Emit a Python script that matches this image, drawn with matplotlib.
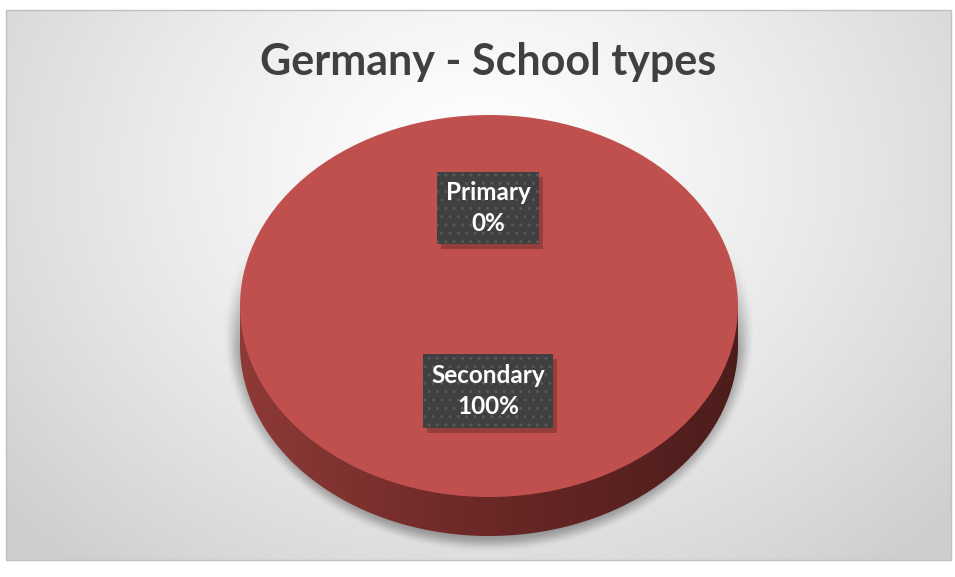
import numpy as np
import matplotlib
matplotlib.use('Agg')
import matplotlib.pyplot as plt
from matplotlib.patches import Rectangle, Polygon

# Datos
categorias = ['Primary', 'Secondary']
valores = [0, 100]
etiquetas = ['Primary\n0%', 'Secondary\n100%']
titulo = 'Germany - School types'

W, H = 955, 577
fig = plt.figure(figsize=(W / 100, H / 100), dpi=100)
fig.patch.set_facecolor('white')

# Fondo del gráfico (coordenadas en píxeles)
bg = fig.add_axes([0, 0, 1, 1], zorder=0)
bg.set_xlim(0, W)
bg.set_ylim(H, 0)
bg.axis('off')

x0, x1, y0, y1 = 6, 951, 10, 560
xx, yy = np.meshgrid(np.arange(x0, x1), np.arange(y0, y1))
d = np.sqrt(((xx - 480) / 620) ** 2 + ((yy - 170) / 520) ** 2)
gris = 1 - 0.19 * np.clip(d, 0, 1) ** 1.3
bg.imshow(np.dstack([gris, gris, gris]), extent=(x0, x1, y1, y0), zorder=0)
bg.add_patch(Rectangle((x0, y0), x1 - x0, y1 - y0, fill=False, edgecolor='#BFBFBF', lw=1, zorder=1))

# Sombra bajo la tarta
dd = np.sqrt(((xx - 488) / 266) ** 2 + ((yy - 332) / 220) ** 2)
s = np.clip((1.0 - dd) / 0.075, 0, 1)
alfa = s * s * (3 - 2 * s) * 0.32
alfa *= np.clip((yy - 240) / 110, 0, 1)
sombra = np.zeros((yy.shape[0], yy.shape[1], 4))
sombra[..., 3] = alfa
bg.imshow(sombra, extent=(x0, x1, y1, y0), zorder=2)

bg.text(488, 62, titulo, ha='center', va='center', fontsize=31, fontweight='bold',
        color='#404040', family=['Lato', 'DejaVu Sans'])

# Tarta (elipse: centro 489,306 ; rx 249 ; ry 191 ; grosor 39 px)
cx, cy, rx, ry, g = 489, 306, 249, 191, 39
prof = g / ry
ax = fig.add_axes([(cx - rx) / W, (H - cy - ry - g) / H, 2 * rx / W, (2 * ry + g) / H], zorder=1)
ax.patch.set_alpha(0)

# Lateral con degradado
t = np.linspace(np.pi, 2 * np.pi, 200)
lado = np.vstack([np.c_[np.cos(t), np.sin(t) - prof], [[1, 0], [-1, 0]]])
clip = Polygon(lado, closed=True, transform=ax.transData, facecolor='none', edgecolor='none')
ax.add_patch(clip)
grad = np.linspace(0, 1, 256)[None, :]
cmap = matplotlib.colors.LinearSegmentedColormap.from_list('lado', ['#8E3A37', '#6A2826', '#4C1D1C'])
im = ax.imshow(grad, extent=(-1, 1, -1 - prof, 0), cmap=cmap, aspect='auto', zorder=1)
im.set_clip_path(clip)

cuñas, _ = ax.pie(valores, colors=['#C0504D', '#C0504D'], startangle=90, counterclock=False,
                  radius=1, wedgeprops=dict(linewidth=0), frame=True)
for c in cuñas:
    c.set_zorder(2)
ax.set_xlim(-1, 1)
ax.set_ylim(-1 - prof, 1)
ax.set_aspect('auto')
ax.axis('off')

# Etiquetas de datos (cajas en píxeles: ancho, alto)
pos = [(488, 208), (488, 391)]
cajas = [(102, 72), (130, 74)]
sx, sy = 1 / rx, 1 / ry
for (px, py), (bw, bh), et in zip(pos, cajas, etiquetas):
    xd, yd = (px - cx) * sx, (cy - py) * sy
    ax.add_patch(Rectangle((xd - bw / 2 * sx + 4 * sx, yd - bh / 2 * sy - 5 * sy), bw * sx, bh * sy,
                           facecolor=(0, 0, 0, 0.22), edgecolor='none', zorder=4))
    ax.add_patch(Rectangle((xd - bw / 2 * sx, yd - bh / 2 * sy), bw * sx, bh * sy,
                           facecolor='#404040', edgecolor='#585858', linewidth=0, hatch='..', zorder=5))
    ax.text(xd, yd, et, ha='center', va='center', fontsize=17.5, fontweight='bold', color='white',
            linespacing=1.45, family=['Lato', 'DejaVu Sans'], zorder=6)

fig.savefig('out.png', dpi=100)
